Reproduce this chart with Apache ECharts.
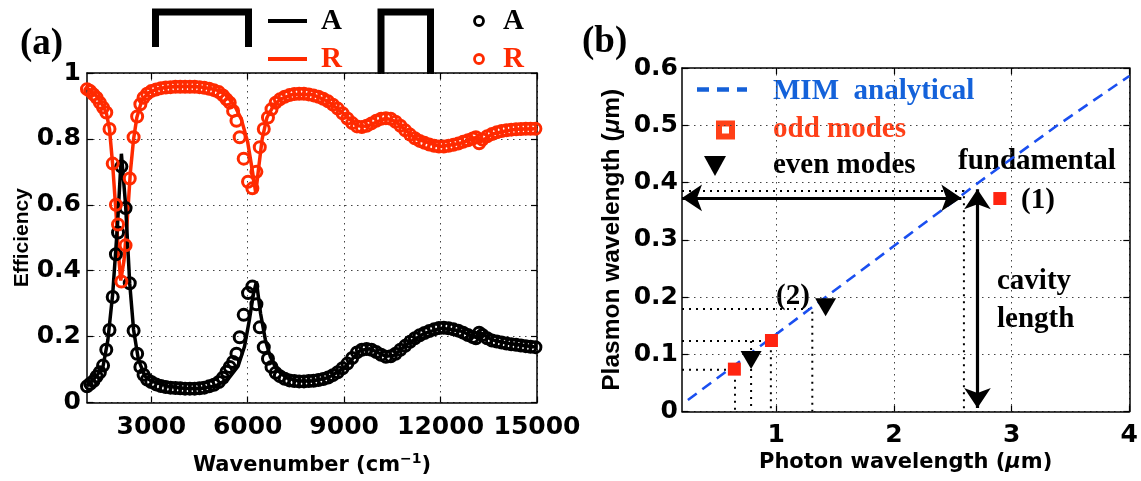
<!DOCTYPE html>
<html><head><meta charset="utf-8">
<script src="https://cdn.jsdelivr.net/npm/echarts@6/dist/echarts.min.js"></script>
<style>html,body{margin:0;padding:0;background:#fff}#c{width:1141px;height:481px}</style>
</head><body><div id="c"></div>
<script>
// ---------- Panel (a) data ----------
const wnSim = [1000,1100,1200,1300,1400,1500,1600,1700,1800,1900,
  1965,2070,2200,2330,2450,2560,2660,2760,2870,3000,
  3150,3300,3450,3600,3750,3900,4050,4200,4350,4500,
  4650,4800,4950,5100,5230,5340,5440,5545,5650,5750,
  5875,6010,6145,6270,6375,6500,6630,6740,6870,7000,
  7150,7300,7450,7600,7750,7900,8050,8200,8350,8500,
  8650,8800,8950,9100,9250,9400,9550,9700,9850,10000,
  10150,10300,10450,10600,10750,10900,11050,11200,11350,11500,
  11650,11800,11950,12100,12250,12400,12550,12700,12850,13000,
  13100,13200,13300,13450,13600,13750,13900,14050,14200,14350,
  14500,14650,14800,14950];
const absSim = [0.049,0.057,0.065,0.079,0.092,0.112,0.160,0.220,0.320,0.450,
  0.516,0.716,0.590,0.362,0.218,0.148,0.108,0.084,0.070,0.062,
  0.055,0.050,0.047,0.045,0.044,0.043,0.042,0.042,0.042,0.043,
  0.045,0.049,0.054,0.062,0.075,0.093,0.108,0.123,0.148,0.198,
  0.266,0.332,0.352,0.298,0.228,0.168,0.133,0.108,0.090,0.080,
  0.072,0.067,0.065,0.064,0.064,0.065,0.066,0.068,0.071,0.076,
  0.083,0.092,0.104,0.118,0.135,0.152,0.160,0.162,0.160,0.153,
  0.145,0.139,0.140,0.148,0.160,0.172,0.184,0.195,0.204,0.211,
  0.217,0.222,0.226,0.227,0.225,0.222,0.218,0.212,0.205,0.199,
  0.195,0.212,0.205,0.195,0.188,0.185,0.182,0.179,0.177,0.175,
  0.173,0.171,0.169,0.168];
const refSim = [0.951,0.945,0.935,0.925,0.910,0.895,0.880,0.830,0.725,0.600,
  0.540,0.367,0.477,0.680,0.805,0.868,0.905,0.925,0.937,0.945,
  0.950,0.954,0.956,0.957,0.958,0.958,0.958,0.958,0.958,0.957,
  0.955,0.952,0.948,0.942,0.932,0.920,0.910,0.885,0.855,0.805,
  0.740,0.670,0.650,0.700,0.775,0.830,0.865,0.890,0.910,0.920,
  0.928,0.933,0.936,0.937,0.937,0.935,0.932,0.928,0.922,0.914,
  0.904,0.892,0.878,0.862,0.848,0.838,0.836,0.840,0.847,0.855,
  0.861,0.863,0.861,0.852,0.840,0.826,0.813,0.802,0.794,0.788,
  0.783,0.779,0.777,0.777,0.779,0.782,0.786,0.791,0.796,0.801,
  0.805,0.787,0.798,0.808,0.815,0.820,0.824,0.826,0.828,0.829,
  0.830,0.831,0.831,0.831];
const wnLineA = [1000,1300,1500,1650,1800,1950,2070,2200,2330,2450,2600,2800,3000,3500,4000,4500,5000,5400,5700,5900,6050,6180,6270,6400,6550,6700,6900,7200,7600,8000,8500,9000,9500,9800,10300,10550,11000,11500,12000,12600,13150,13220,13600,14200,15000];
const absLine = [0.050,0.080,0.110,0.190,0.330,0.540,0.755,0.600,0.360,0.220,0.130,0.080,0.065,0.050,0.043,0.042,0.050,0.072,0.110,0.170,0.250,0.330,0.367,0.270,0.190,0.140,0.100,0.075,0.065,0.065,0.075,0.105,0.158,0.163,0.140,0.143,0.180,0.210,0.225,0.218,0.195,0.213,0.190,0.178,0.168];
const wnLineR = [1000,1300,1500,1600,1700,1800,1900,1980,2050,2150,2250,2350,2450,2550,2700,2900,3200,3600,4000,4500,5000,5300,5600,5800,6000,6150,6250,6350,6450,6600,6800,7000,7400,8000,8500,9000,9400,9700,10300,10600,11200,12000,12600,13150,13200,13600,14300,15000];
const refLine = [0.955,0.930,0.900,0.880,0.830,0.720,0.580,0.450,0.370,0.430,0.550,0.700,0.800,0.865,0.915,0.940,0.952,0.958,0.960,0.958,0.950,0.935,0.900,0.860,0.790,0.700,0.636,0.720,0.800,0.865,0.900,0.920,0.935,0.935,0.914,0.875,0.840,0.838,0.863,0.853,0.802,0.777,0.786,0.806,0.787,0.815,0.829,0.831];
const xTicksA = [3000,6000,9000,12000,15000];

// ---------- Panel (b) data ----------
const mimX = [0.25,1,2,2.72,3.39,4];
const mimY = [0.02,0.135,0.289,0.4,0.5,0.586];
const oddX = [0.645,0.96,2.9];
const oddY = [0.074,0.124,0.372];
const evenX = [0.787,1.42];
const evenY = [0.09,0.182];
const guideX = [0.65,0.787,0.955,1.307,2.595];
const guideY = [0.073,0.123,0.123,0.179,0.385];
const guideHoriz = [true,false,true,true,true];
const arrowH = [[0.2,0.373],[2.573,0.373]];
const arrowV = [[2.71,0.388],[2.71,0.006]];
const xTicksB = [1,2,3,4];

const RED = '#ff2a00', BLUE = '#1a4ff0';
const SANS = '"DejaVu Sans"', SERIF = '"Liberation Serif"';
const zip = (a,b) => a.map((v,i)=>[v,b[i]]);

const chart = echarts.init(document.getElementById('c'), null, {renderer:'canvas'});

function frameX(grid, min, max, ticks, pos){
  return {type:'value', gridIndex:grid, position:pos, min, max,
    axisLine:{show:true,onZero:false,lineStyle:{color:'#000',width:1.5}},
    axisTick:{show:true,inside:true,length:6,customValues:ticks,lineStyle:{color:'#000',width:1.2}},
    axisLabel:{show:false,customValues:ticks}, splitLine:{show:false}};
}
function frameY(grid, min, max, interval){
  return {type:'value', gridIndex:grid, position:'right', min, max, interval,
    axisLine:{show:true,onZero:false,lineStyle:{color:'#000',width:1.5}},
    axisTick:{show:true,inside:true,length:6,lineStyle:{color:'#000',width:1.2}},
    axisLabel:{show:false}, splitLine:{show:false}};
}
const splitStyle = {show:true, lineStyle:{color:'#444',width:1,type:[1.5,4.5]}};
const tickLbl = {color:'#000',fontFamily:SANS,fontWeight:'bold',fontSize:25,formatter:v=>String(+v.toFixed(3))};

const guideSeries = guideX.map((gx,i)=>{
  const pts = guideHoriz[i] ? [[0.2,guideY[i]],[gx,guideY[i]],[gx,0]] : [[gx,guideY[i]],[gx,0]];
  return {type:'line', xAxisIndex:2, yAxisIndex:2, data:pts, showSymbol:false, silent:true,
    lineStyle:{color:'#000',width:2,type:[2,5]}, z:3};
});

const option = {
  animation:false,
  backgroundColor:'#fff',
  grid:[
    {left:87, top:73, width:450, height:335},
    {left:682, top:68, width:449.5, height:343.5}
  ],
  xAxis:[
    {type:'value', gridIndex:0, min:1000, max:15000, position:'bottom',
      name:'Wavenumber (cm{sup|−1})', nameLocation:'middle', nameGap:50,
      nameTextStyle:{color:'#000',fontFamily:SANS,fontWeight:'bold',fontSize:21,
        rich:{sup:{fontFamily:SANS,fontWeight:'bold',fontSize:14,color:'#000',padding:[0,0,12,0]}}},
      axisLine:{onZero:false,lineStyle:{color:'#000',width:1.5}},
      axisTick:{inside:true,length:6,customValues:xTicksA,lineStyle:{color:'#000',width:1.2}},
      axisLabel:Object.assign({margin:12,customValues:xTicksA},tickLbl),
      splitLine:splitStyle},
    frameX(0,1000,15000,xTicksA,'top'),
    {type:'value', gridIndex:1, min:0.2, max:4, position:'bottom',
      name:'Photon wavelength ({it|μ}m)', nameLocation:'middle', nameGap:40,
      nameTextStyle:{color:'#000',fontFamily:SANS,fontWeight:'bold',fontSize:21,
        rich:{it:{fontFamily:SANS,fontWeight:'bold',fontStyle:'italic',fontSize:21,color:'#000'}}},
      axisLine:{onZero:false,lineStyle:{color:'#000',width:1.5}},
      axisTick:{inside:true,length:6,customValues:xTicksB,lineStyle:{color:'#000',width:1.2}},
      axisLabel:Object.assign({margin:11,customValues:xTicksB},tickLbl),
      splitLine:splitStyle},
    frameX(1,0.2,4,xTicksB,'top')
  ],
  yAxis:[
    {type:'value', gridIndex:0, min:0, max:1, interval:0.2, position:'left',
      name:'Efficiency', nameLocation:'middle', nameGap:54,
      nameTextStyle:{color:'#000',fontFamily:'"Liberation Sans"',fontWeight:'bold',fontSize:21},
      axisLine:{onZero:false,lineStyle:{color:'#000',width:1.5}},
      axisTick:{inside:true,length:6,lineStyle:{color:'#000',width:1.2}},
      axisLabel:Object.assign({margin:6},tickLbl),
      splitLine:splitStyle},
    frameY(0,0,1,0.2),
    {type:'value', gridIndex:1, min:0, max:0.6, interval:0.1, position:'left',
      name:'Plasmon wavelength ({it|μ}m)', nameLocation:'middle', nameGap:57,
      nameTextStyle:{color:'#000',fontFamily:'"Liberation Sans"',fontWeight:'bold',fontSize:24.5,
        rich:{it:{fontFamily:'"Liberation Sans"',fontWeight:'bold',fontStyle:'italic',fontSize:24.5,color:'#000'}}},
      axisLine:{onZero:false,lineStyle:{color:'#000',width:1.5}},
      axisTick:{inside:true,length:6,lineStyle:{color:'#000',width:1.2}},
      axisLabel:Object.assign({margin:4},tickLbl),
      splitLine:splitStyle},
    frameY(1,0,0.6,0.1)
  ],
  series:[
    {type:'line', xAxisIndex:0, yAxisIndex:0, data:zip(wnLineR,refLine), showSymbol:false,
      lineStyle:{color:RED,width:3.5}, z:2},
    {type:'line', xAxisIndex:0, yAxisIndex:0, data:zip(wnLineA,absLine), showSymbol:false,
      lineStyle:{color:'#000',width:3.5}, z:3},
    {type:'scatter', xAxisIndex:0, yAxisIndex:0, data:zip(wnSim,absSim), symbol:'circle', symbolSize:11,
      itemStyle:{color:'rgba(0,0,0,0)',borderColor:'#000',borderWidth:3,opacity:1}, z:4},
    {type:'scatter', xAxisIndex:0, yAxisIndex:0, data:zip(wnSim,refSim), symbol:'circle', symbolSize:11,
      itemStyle:{color:'rgba(0,0,0,0)',borderColor:RED,borderWidth:3,opacity:1}, z:5},
    // panel (b)
    ...guideSeries,
    {type:'line', xAxisIndex:2, yAxisIndex:2, data:zip(mimX,mimY), showSymbol:false, smooth:false,
      lineStyle:{color:BLUE,width:2.6,type:[11,7]}, z:4},
    {type:'line', xAxisIndex:2, yAxisIndex:2, data:[], showSymbol:false, z:5,
      markLine:{silent:true, symbol:['arrow','arrow'], symbolSize:[20,20], label:{show:false},
        lineStyle:{color:'#000',width:3.2,type:'solid'},
        data:[
          [{coord:arrowH[0]},{coord:arrowH[1]}],
          [{coord:arrowV[0]},{coord:arrowV[1]}]
        ]}},
    {type:'scatter', xAxisIndex:2, yAxisIndex:2, data:zip(oddX,oddY), symbol:'rect', symbolSize:13,
      itemStyle:{color:'#ff2410',opacity:1}, z:6},
    {type:'scatter', xAxisIndex:2, yAxisIndex:2, data:zip(evenX,evenY), symbol:'triangle', symbolRotate:180,
      symbolSize:[21,18], itemStyle:{color:'#000',opacity:1}, z:6}
  ],
  graphic:[
    {type:'text', style:{text:'(a)', x:20, y:44, fill:'#000', fontFamily:SERIF, fontWeight:'bold', fontSize:37, verticalAlign:'middle'}},
    {type:'text', style:{text:'(b)', x:582, y:42, fill:'#000', fontFamily:SERIF, fontWeight:'bold', fontSize:37, verticalAlign:'middle'}},
    {type:'polyline', shape:{points:[[155.5,47],[155.5,12],[248.5,12],[248.5,47]]}, style:{stroke:'#000',lineWidth:7,fill:null,lineJoin:'miter'}},
    {type:'polyline', shape:{points:[[381,74],[381,12],[430.5,12],[430.5,74]]}, style:{stroke:'#000',lineWidth:7,fill:null,lineJoin:'miter'}},
    {type:'line', shape:{x1:268,y1:21,x2:307,y2:21}, style:{stroke:'#000',lineWidth:4}},
    {type:'line', shape:{x1:268,y1:59,x2:307,y2:59}, style:{stroke:RED,lineWidth:4}},
    {type:'text', style:{text:'A', x:321, y:22, fill:'#000', fontFamily:SERIF, fontWeight:'bold', fontSize:29, verticalAlign:'middle'}},
    {type:'text', style:{text:'R', x:321, y:60, fill:RED, fontFamily:SERIF, fontWeight:'bold', fontSize:29, verticalAlign:'middle'}},
    {type:'circle', shape:{cx:479,cy:21,r:4.5}, style:{fill:null,stroke:'#000',lineWidth:2.8}},
    {type:'circle', shape:{cx:479,cy:59,r:4.5}, style:{fill:null,stroke:RED,lineWidth:2.8}},
    {type:'text', style:{text:'A', x:503, y:22, fill:'#000', fontFamily:SERIF, fontWeight:'bold', fontSize:29, verticalAlign:'middle'}},
    {type:'text', style:{text:'R', x:503, y:60, fill:RED, fontFamily:SERIF, fontWeight:'bold', fontSize:29, verticalAlign:'middle'}},
    {type:'line', shape:{x1:697,y1:89.5,x2:747,y2:89.5}, style:{stroke:'#1560d8',lineWidth:4.5,lineDash:[12,8]}},
    {type:'text', style:{text:'MIM  analytical', x:773, y:92, fill:'#1462da', fontFamily:SERIF, fontWeight:'bold', fontSize:29, verticalAlign:'middle'}},
    {type:'rect', shape:{x:719,y:123.5,width:13,height:13}, style:{fill:'#fff',stroke:'#ff4018',lineWidth:6}},
    {type:'text', style:{text:'odd modes', x:773, y:130, fill:'#ff4018', fontFamily:SERIF, fontWeight:'bold', fontSize:29, verticalAlign:'middle'}},
    {type:'polygon', shape:{points:[[704,156],[726,156],[715,176]]}, style:{fill:'#000'}},
    {type:'text', style:{text:'even modes', x:773, y:166, fill:'#000', fontFamily:SERIF, fontWeight:'bold', fontSize:29, verticalAlign:'middle'}},
    {type:'text', style:{text:'fundamental', x:958, y:162, fill:'#000', fontFamily:SERIF, fontWeight:'bold', fontSize:29, verticalAlign:'middle'}},
    {type:'text', style:{text:'(1)', x:1021, y:201, fill:'#000', fontFamily:SERIF, fontWeight:'bold', fontSize:29, verticalAlign:'middle'}},
    {type:'text', style:{text:'(2)', x:776, y:297, fill:'#000', fontFamily:SERIF, fontWeight:'bold', fontSize:29, verticalAlign:'middle'}},
    {type:'text', style:{text:'cavity', x:997, y:282, fill:'#000', fontFamily:SERIF, fontWeight:'bold', fontSize:29, verticalAlign:'middle'}},
    {type:'text', style:{text:'length', x:997, y:320, fill:'#000', fontFamily:SERIF, fontWeight:'bold', fontSize:29, verticalAlign:'middle'}}
  ]
};
chart.setOption(option);
</script></body></html>
